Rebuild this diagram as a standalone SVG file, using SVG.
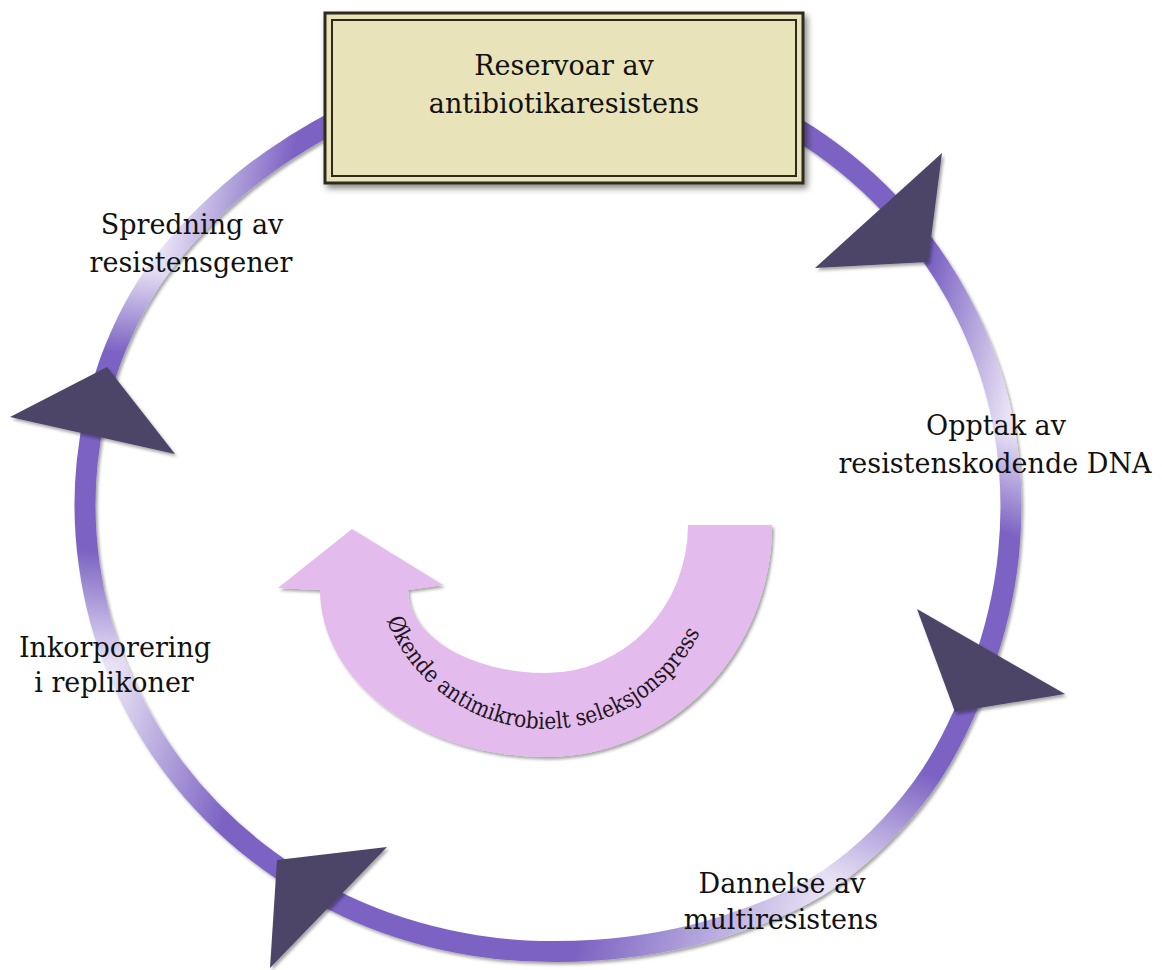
<svg xmlns="http://www.w3.org/2000/svg" width="1162" height="970" viewBox="0 0 1162 970">
<style>
.ring{fill:none;stroke-width:21;stroke-linecap:butt}
.tri{fill:#4E4468}
.lbl{font-family:"DejaVu Serif","Liberation Serif",serif;font-size:27px;fill:#111;text-anchor:middle}
.arc{font-family:"DejaVu Serif","Liberation Serif",serif;font-size:23px;fill:#1E1522}
</style>
<defs>
<filter id="sh" x="-10%" y="-10%" width="125%" height="125%"><feDropShadow dx="2" dy="2.5" stdDeviation="1.8" flood-color="#000" flood-opacity="0.35"/></filter>
<filter id="shb" x="-10%" y="-10%" width="125%" height="125%"><feDropShadow dx="3" dy="4" stdDeviation="3" flood-color="#000" flood-opacity="0.45"/></filter>
<linearGradient id="g1" gradientUnits="userSpaceOnUse" x1="158.8" y1="268.9" x2="1004.4" y2="429.8"><stop offset="0" stop-color="#E8E2F5"/><stop offset="0.13" stop-color="#7B62C2"/><stop offset="0.88" stop-color="#7B62C2"/><stop offset="1" stop-color="#E8E2F5"/></linearGradient>
<linearGradient id="g2" gradientUnits="userSpaceOnUse" x1="1004.4" y1="429.8" x2="829" y2="878.8"><stop offset="0" stop-color="#E8E2F5"/><stop offset="0.2" stop-color="#7B62C2"/><stop offset="0.72" stop-color="#7B62C2"/><stop offset="1" stop-color="#E8E2F5"/></linearGradient>
<linearGradient id="g3" gradientUnits="userSpaceOnUse" x1="829" y1="878.8" x2="116" y2="665.6"><stop offset="0" stop-color="#E8E2F5"/><stop offset="0.3" stop-color="#7B62C2"/><stop offset="0.8" stop-color="#7B62C2"/><stop offset="1" stop-color="#E8E2F5"/></linearGradient>
<linearGradient id="g4" gradientUnits="userSpaceOnUse" x1="116" y1="665.6" x2="158.8" y2="268.9"><stop offset="0" stop-color="#E8E2F5"/><stop offset="0.28" stop-color="#7B62C2"/><stop offset="0.78" stop-color="#7B62C2"/><stop offset="1" stop-color="#E8E2F5"/></linearGradient>
<path id="tp" d="M383.4,610.8 A171,171 0 0 0 704.5,622.1"/>
</defs>
<g id="connectors" filter="url(#sh)">
<path class="ring" stroke="url(#g1)" d="M158.8,268.9 C180.73,239.2 211.43,207.88 242,182.7 C272.57,157.52 306.77,136.03 342.2,117.8 C377.63,99.57 415.5,82.82 454.6,73.3 C493.7,63.78 536.22,59.07 576.8,60.7 C617.38,62.33 659.45,70.48 698.1,83.1 C736.75,95.72 774.93,114.25 808.7,136.4 C842.47,158.55 874.25,186.03 900.7,216 C927.15,245.97 950.12,280.57 967.4,316.2 C984.68,351.83 997.53,390.23 1004.4,429.8"/>
<path class="ring" stroke="url(#g2)" d="M1004.4,429.8 C1011.27,469.37 1012.7,512.78 1008.6,553.6 C1004.5,594.42 994.23,635.65 979.8,674.7 C965.37,713.75 947.13,753.88 922,787.9 C896.87,821.92 863.3,855.33 829,878.8"/>
<path class="ring" stroke="url(#g3)" d="M829,878.8 C794.7,902.27 755,916.82 716.2,928.7 C677.4,940.58 636.32,947.28 596.2,950.1 C556.08,952.92 514.92,951.87 475.5,945.6 C436.08,939.33 396.13,928.13 359.7,912.5 C323.27,896.87 287.88,875.95 256.9,851.8 C225.92,827.65 197.28,798.63 173.8,767.6 C150.32,736.57 130.08,699.32 116,665.6"/>
<path class="ring" stroke="url(#g4)" d="M116,665.6 C101.92,631.88 94.1,599.25 89.3,565.3 C84.5,531.35 83.68,495.97 87.2,461.9 C90.72,427.83 98.47,393.07 110.4,360.9 C122.33,328.73 136.87,298.6 158.8,268.9"/>
</g>
<g id="arrowheads" filter="url(#sh)">
<polygon class="tri" points="942,153 815,268 928,262"/>
<polygon class="tri" points="917,609 1065,694 955,712"/>
<polygon class="tri" points="387,847 277,860 270,968"/>
<polygon class="tri" points="107,367 10,417 175,454"/>
</g>
<g id="reservoar">
<rect x="325" y="13" width="478" height="170" fill="#E8E3B9" stroke="#2E2A1A" stroke-width="3" filter="url(#shb)"/>
<rect x="332" y="20" width="464" height="156" fill="none" stroke="#2E2A1A" stroke-width="2"/>
<text class="lbl" x="564" y="75">Reservoar av</text>
<text class="lbl" x="564" y="113">antibiotikaresistens</text>
</g>
<g id="spredning">
<text class="lbl" x="192" y="234">Spredning av</text>
<text class="lbl" x="191" y="272">resistensgener</text>
</g>
<g id="opptak">
<text class="lbl" x="996" y="435">Opptak av</text>
<text class="lbl" x="995" y="473">resistenskodende DNA</text>
</g>
<g id="inkorporering">
<text class="lbl" x="115" y="657">Inkorporering</text>
<text class="lbl" x="114" y="692">i replikoner</text>
</g>
<g id="dannelse">
<text class="lbl" x="782" y="893">Dannelse av</text>
<text class="lbl" x="781" y="929">multiresistens</text>
</g>
<g id="seleksjonspress">
<path d="M772,525 A226,232 0 0 1 546,757 A226,167 0 0 1 320,590 L278,588 L352,529 L443,585 L408,590 A138,83 0 0 0 546,673 A142,148 0 0 0 688,525 Z" fill="#E3BBEC" filter="url(#sh)"/>
<text class="arc"><textPath href="#tp" startOffset="10" textLength="396" lengthAdjust="spacingAndGlyphs">Økende antimikrobielt seleksjonspress</textPath></text>
</g>
</svg>
